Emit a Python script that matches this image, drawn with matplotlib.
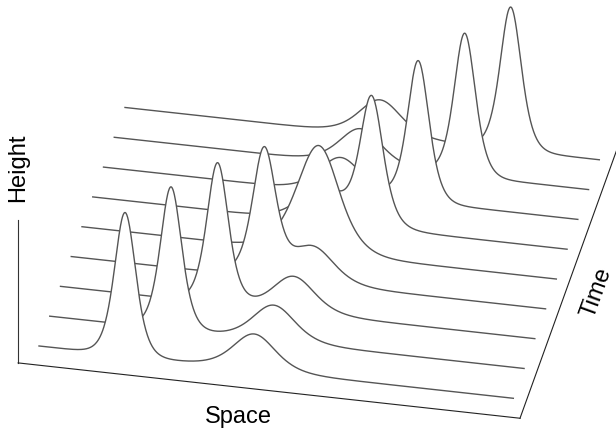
import numpy as np
import matplotlib
matplotlib.use('Agg')
import matplotlib.pyplot as plt

# two-soliton KdV snapshots
times = [0.0, 0.62, 1.25, 1.88, 2.5, 3.12, 3.75, 4.38, 5.0]
wave_numbers = [2.0, 1.0]          # tall (fast) and small (slow) soliton
phases = [-12.12, -12.96]
space_len = 33.4

# projection of the time axis / tilt of the space axis
step_dx, step_dy = 0.757, 0.417
tilt = 0.0219


def kdv_two_soliton(x, t):
    k1, k2 = wave_numbers
    a = ((k1 - k2) / (k1 + k2)) ** 2
    e1 = np.exp(k1 * x - k1 ** 3 * t + phases[0])
    e2 = np.exp(k2 * x - k2 ** 3 * t + phases[1])
    f = 1 + e1 + e2 + a * e1 * e2
    f1 = k1 * e1 + k2 * e2 + a * (k1 + k2) * e1 * e2
    f2 = k1 ** 2 * e1 + k2 ** 2 * e2 + a * (k1 + k2) ** 2 * e1 * e2
    return 2 * (f * f2 - f1 ** 2) / f ** 2


def project(x, h, k):
    return x + k * step_dx, h + k * step_dy - tilt * x


fig = plt.figure(figsize=(6.16, 4.31), dpi=100)
ax = fig.add_axes([0, 0, 1, 1])
ax.set_xlim(-2.746, 40.63)
ax.set_ylim(-1.175, 4.853)
ax.axis('off')

x = np.linspace(0, space_len, 1200)
n = len(times)
# back to front so nearer curves hide the ones behind
for k in range(n - 1, -1, -1):
    u = kdv_two_soliton(x, times[k])
    px, py = project(x, u, k)
    bx, by = project(x[::-1], np.zeros_like(x), k)
    ax.fill(np.concatenate([px, bx]), np.concatenate([py, by]),
            color='white', edgecolor='none', zorder=2 * (n - k))
    ax.plot(px, py, color='#555555', lw=1.0, zorder=2 * (n - k) + 1)

# frame: height axis, space axis, time axis
k0 = -0.62
x_lo, x_hi = -1.0, 34.34
ax.plot(*project(np.array([x_lo, x_lo]), np.array([2.0, 0.0]), k0), color='#333333', lw=0.8)
ax.plot(*project(np.array([x_lo, x_hi]), np.array([0.0, 0.0]), k0), color='#222222', lw=0.8)
tk = np.array([k0, 9.5])
ax.plot(x_hi + tk * step_dx, tk * step_dy - tilt * x_hi, color='#222222', lw=0.8)

font = 'Liberation Sans'
fig.text(18 / 616, 1 - 168 / 431, 'Height', rotation=90, ha='center', va='center',
         fontsize=17, family=font)
fig.text(238 / 616, 1 - 417 / 431, 'Space', ha='center', va='center',
         fontsize=17, family=font)
fig.text(597 / 616, 1 - 293 / 431, 'Time', rotation=70, ha='center', va='center',
         fontsize=17, family=font)

plt.savefig('out.png', dpi=100)
plt.close()
